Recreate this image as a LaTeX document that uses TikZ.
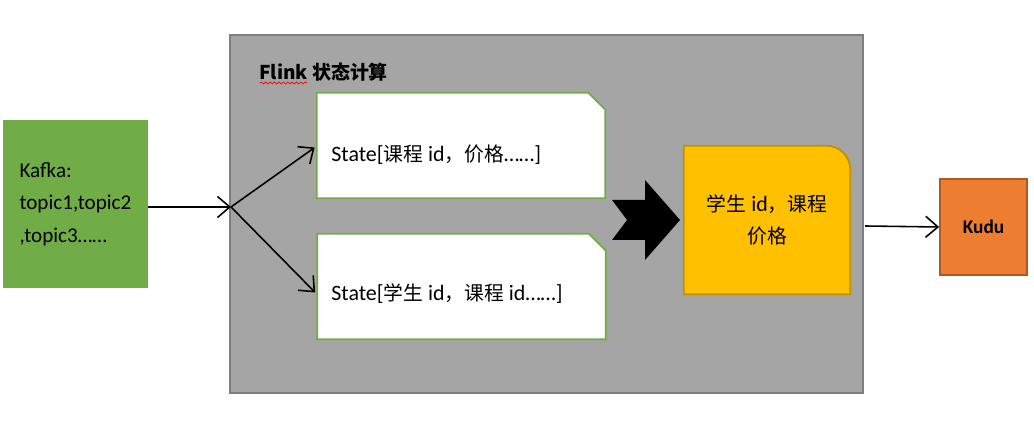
\documentclass[tikz,border=0pt]{standalone}
\usepackage{fontspec}
\setmainfont{Carlito}
\newfontfamily\cjk[Scale=0.9]{Noto Sans CJK SC}
\usetikzlibrary{arrows.meta,calc,decorations.pathmorphing}
\definecolor{kafkagreen}{HTML}{70AD47}
\definecolor{flinkgray}{HTML}{A5A5A5}
\definecolor{flinkborder}{HTML}{7F7F7F}
\definecolor{resyellow}{HTML}{FFC000}
\definecolor{resborder}{HTML}{BF9000}
\definecolor{kuduorange}{HTML}{ED7D31}
\definecolor{kuduborder}{HTML}{AE5A21}
\newcommand{\zh}[1]{{\cjk #1}}

\begin{document}
\begin{tikzpicture}[x=0.02cm,y=0.02cm,
    font=\fontsize{12.5}{18}\selectfont,
    flow/.style={line width=0.9pt,-{Straight Barb[length=7pt,width=12pt]}},
    statebox/.style={draw=none,inner sep=0pt,minimum width=5.76cm,minimum height=2.1cm},
    statetxt/.style={anchor=west,inner sep=0pt}]
    \useasboundingbox (0,0) rectangle (1034,428);

    % Sorgente Kafka
    \node[fill=kafkagreen,minimum width=2.9cm,minimum height=3.38cm,align=left,text width=2.24cm,font=\fontsize{12}{18.5}\selectfont] (kafka) at (75.5,224) {Kafka:\\topic1,topic2\\,topic3……};

    % Riquadro Flink
    \node[fill=flinkgray,draw=flinkborder,line width=1pt,minimum width=12.66cm,minimum height=7.16cm] (flink) at (546.5,214) {};
    \node[anchor=west,inner sep=0pt,font=\cjk\bfseries\fontsize{12}{14}\selectfont] (title) at (259,356) {Flink 状态计算};
    \draw[red,line width=0.4pt,decorate,decoration={snake,amplitude=0.6pt,segment length=2.5pt}] (260,345) -- (307,345); % sottolineatura

    % Stati
    \node[statebox] (s1) at (461,282.5) {};
    \node[statebox] (s2) at (461.5,141.5) {};
    \foreach \s in {s1,s2}
        \draw[kafkagreen,fill=white,line width=1pt] (\s.south west) -- (\s.north west) -- ($(\s.north east)+(-17,0)$) -- ($(\s.north east)+(0,-17)$) -- (\s.south east) -- cycle;
    \node[statetxt] (s1t) at (331,273) {State[\zh{课程} id\zh{，价格}……]};
    \node[statetxt] (s2t) at (331,134) {State[\zh{学生} id\zh{，课程} id……]};

    % Freccia larga
    \fill (612,228) -- (645,228) -- (645,248) -- (680,208) -- (645,168) -- (645,188) -- (612,188) -- (627,208) -- cycle;

    % Risultato
    \node[inner sep=0pt,minimum width=3.32cm,minimum height=2.96cm] (res) at (767,208) {};
    \draw[resborder,fill=resyellow,line width=1pt] (res.south west) -- (res.north west) -- ($(res.north east)+(-24,0)$) arc[start angle=90,end angle=0,radius=0.48cm] -- (res.south east) -- cycle;
    \node[align=center] (restxt) at (res) {\zh{学生} id\zh{，课程}\\\zh{价格}};

    % Kudu
    \node[fill=kuduorange,draw=kuduborder,line width=1pt,minimum width=1.74cm,minimum height=1.92cm,font=\bfseries\fontsize{11}{13}\selectfont] (kudu) at (983.5,201) {Kudu};

    % Frecce
    \coordinate (split) at (231,221);
    \coordinate (out) at (865,202);
    \draw[flow] (kafka.east |- split) -- (split);
    \draw[flow] (split) -- ($(s1.west)+(-2,-2)$);
    \draw[flow] (split) -- ($(s2.west)+(-2,-6)$);
    \draw[flow] (out) -- (kudu.west);
\end{tikzpicture}
\end{document}
